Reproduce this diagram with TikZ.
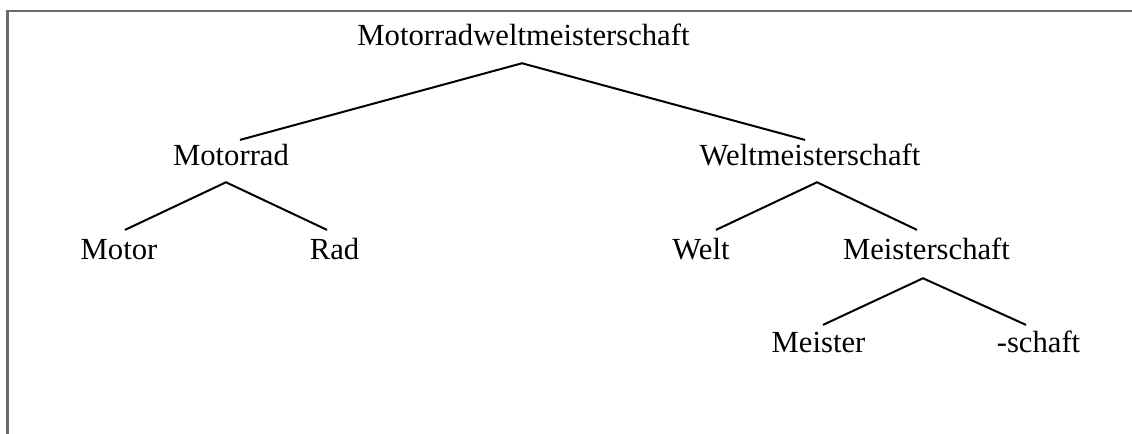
\documentclass[tikz,border=0pt]{standalone}
\usepackage{fontspec}
\setmainfont{Liberation Serif}
\definecolor{framegray}{RGB}{105,105,105}
\begin{document}
\begin{tikzpicture}[x=0.75pt,y=-0.75pt,
  word/.style={anchor=base,inner sep=0pt,text height=0.7em,text depth=0pt,font=\fontsize{23}{27}\selectfont},
  branch/.style={line width=1.5pt,black},
  frameline/.style={line width=1.6pt,framegray}]
\useasboundingbox (0,0) rectangle (1132,434);
\draw[frameline] (7.5,434) coordinate (fb) -- (7.5,11) coordinate (fc) -- (1132,11) coordinate (fr);
\node[word] (top) at (523.5,46) {Motorradweltmeisterschaft};
\node[word] (mr) at (231,166) {Motorrad};
\node[word] (wm) at (810,166) {Weltmeisterschaft};
\node[word] (motor) at (119,260) {Motor};
\node[word] (rad) at (334.5,260) {Rad};
\node[word] (welt) at (701,260) {Welt};
\node[word] (ms) at (926.5,260) {Meisterschaft};
\node[word] (meister) at (818.5,353) {Meister};
\node[word] (schaft) at (1038.5,353) {-schaft};
\draw[branch] ([shift={(9,-16.5)}]mr.north) -- ([shift={(-1.5,17)}]top.south) -- ([shift={(-5,-16.5)}]wm.north);
\draw[branch] ([shift={(6,-20.5)}]motor.north) -- ([shift={(-5,16)}]mr.south) -- ([shift={(-7.5,-20.5)}]rad.north);
\draw[branch] ([shift={(15,-20.5)}]welt.north) -- ([shift={(7,16)}]wm.south) -- ([shift={(-9.5,-20.5)}]ms.north);
\draw[branch] ([shift={(4.5,-18.5)}]meister.north) -- ([shift={(-3.5,18)}]ms.south) -- ([shift={(-12.5,-18.5)}]schaft.north);
\end{tikzpicture}
\end{document}
